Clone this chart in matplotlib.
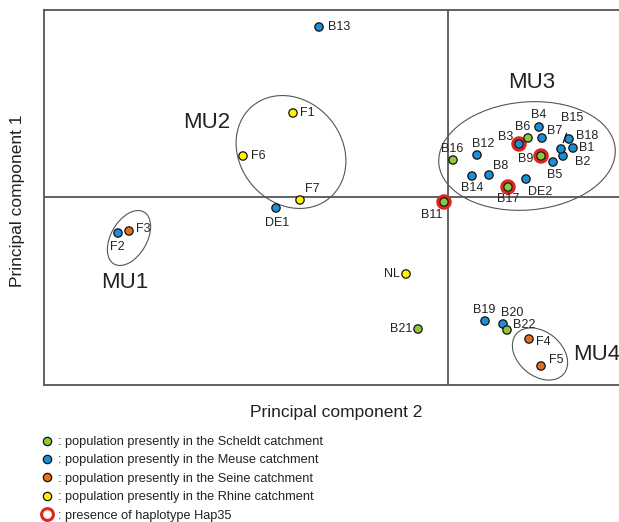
import numpy as np
import matplotlib
matplotlib.use("Agg")
import matplotlib.pyplot as plt
from matplotlib.patches import Ellipse
from matplotlib.lines import Line2D

plt.rcParams['font.family'] = ['Liberation Sans', 'DejaVu Sans']

# populations: name, PC2 (x), PC1 (y), catchment, Hap35 present
names = ["B1", "B2", "B3", "B4", "B5", "B6", "B7", "B8", "B9", "B11", "B12", "B13",
         "B14", "B15", "B16", "B17", "B18", "B19", "B20", "B21", "B22",
         "DE1", "DE2", "F1", "F2", "F3", "F4", "F5", "F6", "F7", "NL"]
pc2 = [1.25, 1.15, 0.71, 0.91, 1.05, 0.80, 0.94, 0.41, 0.93, -0.04, 0.29, -1.29,
       0.24, 1.13, 0.05, 0.60, 1.21, 0.37, 0.55, -0.30, 0.59,
       -1.72, 0.78, -1.55, -3.30, -3.19, 0.81, 0.93, -2.05, -1.48, -0.42]
pc1 = [0.49, 0.41, 0.53, 0.70, 0.35, 0.59, 0.59, 0.22, 0.41, -0.05, 0.42, 1.70,
       0.21, 0.48, 0.37, 0.10, 0.58, -1.24, -1.27, -1.32, -1.33,
       -0.11, 0.18, 0.84, -0.36, -0.34, -1.42, -1.69, 0.41, -0.03, -0.77]
catchment = ["Meuse", "Meuse", "Meuse", "Meuse", "Meuse", "Scheldt", "Meuse", "Meuse",
             "Scheldt", "Scheldt", "Meuse", "Meuse", "Meuse", "Meuse", "Scheldt",
             "Scheldt", "Meuse", "Meuse", "Meuse", "Scheldt", "Scheldt",
             "Meuse", "Meuse", "Rhine", "Meuse", "Seine", "Seine", "Seine",
             "Rhine", "Rhine", "Rhine"]
hap35 = ["B3", "B9", "B11", "B17"]

# label offsets in pixels (dx, dy) from the point
label_offsets = {
    "B1": (14, 0), "B2": (20, -6), "B3": (-13, 7), "B4": (0, 12), "B5": (2, -13),
    "B6": (-5, 11), "B7": (13, 7), "B8": (12, 9), "B9": (-15, -3), "B11": (-12, -13),
    "B12": (6, 11), "B13": (20, 0), "B14": (0, -12), "B15": (11, 31), "B16": (-1, 11),
    "B17": (0, -12), "B18": (18, 3), "B19": (-1, 11), "B20": (9, 11), "B21": (-17, 0),
    "B22": (17, 5), "DE1": (1, -15), "DE2": (14, -13), "F1": (14, 0), "F2": (-1, -14),
    "F3": (14, 2), "F4": (14, -3), "F5": (15, 6), "F6": (15, 0), "F7": (12, 11),
    "NL": (-14, 0),
}

colors = {"Scheldt": "#8dc63f", "Meuse": "#1b8fd6", "Seine": "#e2711d", "Rhine": "#fff200"}
legend_labels = [": population presently in the Scheldt catchment",
                 ": population presently in the Meuse catchment",
                 ": population presently in the Seine catchment",
                 ": population presently in the Rhine catchment"]
legend_order = ["Scheldt", "Meuse", "Seine", "Rhine"]

# management units: name, centre, width, height, angle, label position
mu_names = ["MU1", "MU2", "MU3", "MU4"]
mu_centre = [(-3.19, -0.41), (-1.57, 0.45), (0.79, 0.41), (0.92, -1.57)]
mu_size = [(0.60, 0.36), (1.20, 1.02), (1.77, 1.08), (0.62, 0.44)]
mu_angle = [60, -50, 5, -40]
mu_label = [(-3.23, -0.85), (-2.41, 0.75), (0.84, 1.14), (1.25, -1.57)]

W, H = 619, 522
fig = plt.figure(figsize=(W / 100, H / 100), dpi=100)
ax = fig.add_axes([44 / W, (H - 385) / H, 596 / W, 375 / H])
ax.set_xlim(-4.04, 1.92)
ax.set_ylim(-1.88, 1.87)
ax.set_xticks([])
ax.set_yticks([])
for s in ax.spines.values():
    s.set_color("#555555")
    s.set_linewidth(1.3)
ax.axhline(0, color="#555555", lw=1.3, zorder=1)
ax.axvline(0, color="#555555", lw=1.3, zorder=1)

for n, c, (w, h), a, lp in zip(mu_names, mu_centre, mu_size, mu_angle, mu_label):
    ax.add_patch(Ellipse(c, w, h, angle=a, fill=False, ec="#555555", lw=0.8, zorder=2))
    ha = "left" if n == "MU4" else "center"
    ax.text(lp[0], lp[1], n, fontsize=16, ha=ha, va="center", color="#222222", clip_on=False)

df_x = np.array(pc2)
df_y = np.array(pc1)
ring = np.array([n in hap35 for n in names])
ax.scatter(df_x[ring], df_y[ring], s=78, facecolors="none", edgecolors="#e3241b",
           linewidths=2.3, zorder=3)
ax.scatter(df_x, df_y, s=36, c=[colors[k] for k in catchment], edgecolors="#111111",
           linewidths=0.9, zorder=4)

for n, x, y in zip(names, pc2, pc1):
    dx, dy = label_offsets[n]
    if n == "B15":
        ax.annotate(n, (x, y), xytext=(dx, dy), textcoords="offset pixels", fontsize=9,
                    ha="center", va="center", color="#222222",
                    arrowprops=dict(arrowstyle="-", color="#111111", lw=1.0, shrinkA=5, shrinkB=5))
    else:
        ax.annotate(n, (x, y), xytext=(dx, dy), textcoords="offset pixels", fontsize=9,
                    ha="center", va="center", color="#222222")

fig.text(336 / W, 1 - 413 / H, "Principal component 2", fontsize=12.5, ha="center",
         va="center", color="#222222")
fig.text(18 / W, 1 - 201 / H, "Principal component 1", fontsize=12.5, ha="center",
         va="center", rotation=90, color="#222222")

handles = [Line2D([], [], ls="", marker="o", ms=6, mfc=colors[k], mec="#111111", mew=0.9)
           for k in legend_order]
handles.append(Line2D([], [], ls="", marker="o", ms=8.5, mfc="none", mec="#e3241b", mew=2.2))
labels = legend_labels + [": presence of haplotype Hap35"]
fig.legend(handles, labels, loc="upper left", bbox_to_anchor=(41 / W, 1 - 436 / H),
           frameon=False, fontsize=9.2, handlelength=0.9, handletextpad=0.4,
           labelspacing=0.5, borderpad=0, borderaxespad=0, labelcolor="#222222")

fig.savefig("out.png", dpi=100)
